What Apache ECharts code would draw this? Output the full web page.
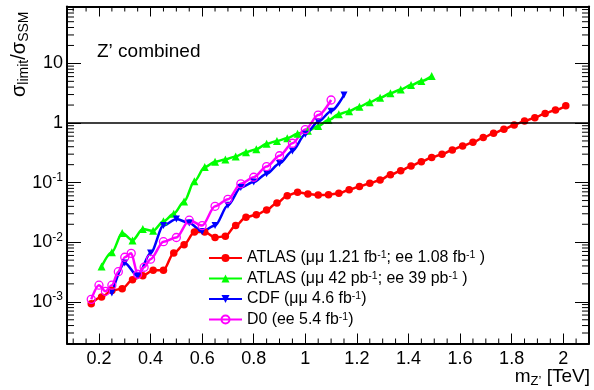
<!DOCTYPE html>
<html><head><meta charset="utf-8">
<script src="https://cdn.jsdelivr.net/npm/echarts@6.0.0/dist/echarts.min.js"></script>
<style>html,body{margin:0;padding:0;background:#fff}#c{width:594px;height:390px}</style>
</head><body><div id="c"></div>
<script>
const FONT = '"Liberation Sans", Arial, Helvetica, sans-serif';

// ---- data ----
const atlas2011X = [0.17,0.21,0.25,0.29,0.33,0.37,0.41,0.45,0.49,0.53,0.57,0.61,0.65,0.69,0.73,0.77,0.81,0.85,0.89,0.93,0.97,1.01,1.05,1.09,1.13,1.17,1.21,1.25,1.29,1.33,1.37,1.41,1.45,1.49,1.53,1.57,1.61,1.65,1.69,1.73,1.77,1.81,1.85,1.89,1.93,1.97,2.01];
const atlas2011Y = [9.3e-4,1.2e-3,1.55e-3,1.66e-3,2.34e-3,2.75e-3,3.39e-3,3.39e-3,6.6e-3,9.1e-3,0.0148,0.0148,0.012,0.0126,0.019,0.0263,0.0288,0.0347,0.0457,0.0603,0.0692,0.0646,0.0617,0.0624,0.0661,0.0759,0.0859,0.0977,0.111,0.135,0.158,0.19,0.224,0.263,0.299,0.353,0.412,0.474,0.569,0.671,0.783,0.927,1.08,1.23,1.45,1.65,1.95];

const atlas2010X = [0.21,0.25,0.29,0.33,0.37,0.41,0.45,0.49,0.53,0.57,0.61,0.65,0.69,0.73,0.77,0.81,0.85,0.89,0.93,0.97,1.01,1.05,1.09,1.13,1.17,1.21,1.25,1.29,1.33,1.37,1.41,1.45,1.49];
const atlas2010Y = [3.9e-3,6.8e-3,0.0143,0.0107,0.0166,0.0155,0.0224,0.030,0.048,0.105,0.182,0.224,0.245,0.275,0.324,0.363,0.447,0.50,0.555,0.66,0.74,0.89,1.12,1.40,1.58,1.88,2.22,2.65,3.14,3.66,4.32,5.05,6.12];

const cdfX = [0.25,0.30,0.35,0.40,0.45,0.50,0.55,0.60,0.65,0.70,0.75,0.80,0.85,0.90,0.95,1.00,1.05,1.10,1.15];
const cdfY = [1.4e-3,4.5e-3,2.7e-3,6.6e-3,0.019,0.0245,0.021,0.0151,0.019,0.0417,0.083,0.102,0.141,0.209,0.339,0.646,1.05,1.58,2.95];

const d0X = [0.17,0.2,0.225,0.25,0.275,0.3,0.325,0.35,0.375,0.4,0.45,0.5,0.55,0.6,0.65,0.7,0.75,0.8,0.85,0.9,0.95,1.0,1.05,1.1];
const d0Y = [1.1e-3,1.9e-3,1.5e-3,1.9e-3,3.2e-3,5.6e-3,6.5e-3,2.9e-3,3.8e-3,5.2e-3,0.0102,0.012,0.0234,0.019,0.040,0.0525,0.0955,0.123,0.186,0.282,0.457,0.776,1.36,2.43];

const seriesNames = ['ATLAS 2011','ATLAS 2010','CDF','D0'];
const legendTexts = [
  '{n|ATLAS (μμ 1.21 fb}{s|-1}{n|; ee 1.08 fb}{s|-1}{n| )}',
  '{n|ATLAS (μμ 42 pb}{s|-1}{n|; ee 39 pb}{s|-1}{n| )}',
  '{n|CDF (μμ 4.6 fb}{s|-1}{n|)}',
  '{n|D0 (ee 5.4 fb}{s|-1}{n|)}'
];
const xMin = 0.076, xMax = 2.1, yMin = 2e-4, yMax = 90;
const refLine = 1;

// minor tick positions (axis decoration)
const xMinorTicks = [];
for (let v = 0.1; v < 2.1; v += 0.05) { const r = Math.round(v*100)/100; if (Math.abs(r/0.2 - Math.round(r/0.2)) > 1e-6) xMinorTicks.push(r); }
const yMinorTicks = [];
for (let e = -4; e <= 1; e++) for (let m = 2; m <= 9; m++) { const v = m*Math.pow(10,e); if (v > yMin*1.01 && v < yMax*0.99) yMinorTicks.push(v); }

const tickData = xMinorTicks.map(v => [v, 1, 0]).concat(yMinorTicks.map(v => [1, v, 1]));

const pairs = (xs, ys) => xs.map((x, i) => [x, ys[i]]);

function lineSeries(name, xs, ys, color, symbol, size, extra) {
  return Object.assign({
    name, type: 'line', data: pairs(xs, ys),
    smooth: 0.3, smoothMonotone: 'x',
    symbol, symbolSize: size, showSymbol: true, showAllSymbol: true,
    lineStyle: { color, width: 2.5 },
    itemStyle: { color },
    emphasis: { disabled: true },
    xAxisIndex: 0, yAxisIndex: 0
  }, extra || {});
}

const chart = echarts.init(document.getElementById('c'));
const axisLineStyle = { color: '#000', width: 2 };

const option = {
  animation: false,
  backgroundColor: '#fff',
  grid: { left: 67, right: 5, top: 6.5, bottom: 46.5, containLabel: false },
  xAxis: [
    { type: 'value', min: xMin, max: xMax, minInterval: 0.2, maxInterval: 0.2, splitNumber: 10,
      position: 'bottom', splitLine: { show: false },
      axisLine: { lineStyle: axisLineStyle },
      axisTick: { inside: true, length: 10, lineStyle: { color: '#000', width: 1 } },
      axisLabel: { color: '#000', fontSize: 18, fontFamily: FONT, margin: 7, showMinLabel: false, showMaxLabel: false }
    },
    { type: 'value', min: xMin, max: xMax, minInterval: 0.2, maxInterval: 0.2, splitNumber: 10,
      position: 'top', splitLine: { show: false },
      axisLine: { lineStyle: axisLineStyle },
      axisTick: { inside: true, length: 10, lineStyle: { color: '#000', width: 1 } },
      axisLabel: { show: false }
    }
  ],
  yAxis: [
    { type: 'log', logBase: 10, min: yMin, max: yMax, position: 'left', splitLine: { show: false },
      axisLine: { lineStyle: axisLineStyle },
      axisTick: { inside: true, length: 14, lineStyle: { color: '#000', width: 1 } },
      axisLabel: { color: '#000', fontFamily: FONT, margin: 4, showMinLabel: false, showMaxLabel: false,
        formatter: v => { const e = Math.round(Math.log10(v)); return e >= 0 ? '{b|' + Math.pow(10, e) + '}' : '{b|10}{s|' + e + '}'; },
        rich: { b: { fontSize: 18, fontFamily: FONT, color: '#000', lineHeight: 22 },
                s: { fontSize: 12, fontFamily: FONT, color: '#000', lineHeight: 12, verticalAlign: 'top' } } }
    },
    { type: 'log', logBase: 10, min: yMin, max: yMax, position: 'right', splitLine: { show: false },
      axisLine: { lineStyle: axisLineStyle },
      axisTick: { inside: true, length: 14, lineStyle: { color: '#000', width: 1 } },
      axisLabel: { show: false }
    }
  ],
  legend: {
    orient: 'vertical', left: 208, top: 250, padding: 0, itemWidth: 33, itemHeight: 10, itemGap: 4.5,
    data: seriesNames, selectedMode: false,
    formatter: name => legendTexts[seriesNames.indexOf(name)],
    textStyle: { color: '#000', fontFamily: FONT,
      rich: { n: { fontSize: 15.9, fontFamily: FONT, color: '#000', lineHeight: 16 },
              s: { fontSize: 10.5, fontFamily: FONT, color: '#000', lineHeight: 10, verticalAlign: 'top' } } }
  },
  series: [
    lineSeries(seriesNames[0], atlas2011X, atlas2011Y, '#ff0000', 'circle', 7.5, {
      markLine: { silent: true, symbol: ['none', 'none'], label: { show: false },
        lineStyle: { color: '#000', width: 1.5, type: 'solid' }, data: [{ yAxis: refLine }] }
    }),
    lineSeries(seriesNames[1], atlas2010X, atlas2010Y, '#00ff00', 'triangle', 8),
    lineSeries(seriesNames[2], cdfX, cdfY, '#0000ff', 'triangle', 7, { symbolRotate: 180 }),
    lineSeries(seriesNames[3], d0X, d0Y, '#ff00ff', 'circle', 8, {
      itemStyle: { color: 'rgba(255,255,255,0)', borderColor: '#ff00ff', borderWidth: 1.3 } }),
    { type: 'custom', name: 'minorTicks', xAxisIndex: 0, yAxisIndex: 0, silent: true, clip: false,
      data: tickData,
      renderItem: (params, api) => {
        const cs = params.coordSys;
        const st = { stroke: '#000', lineWidth: 1 };
        if (api.value(2) === 0) {
          const px = api.coord([api.value(0), 1])[0];
          const yb = cs.y + cs.height, yt = cs.y;
          return { type: 'group', children: [
            { type: 'line', shape: { x1: px, y1: yb, x2: px, y2: yb - 5 }, style: st },
            { type: 'line', shape: { x1: px, y1: yt, x2: px, y2: yt + 5 }, style: st } ] };
        } else {
          const py = api.coord([1, api.value(1)])[1];
          const xl = cs.x, xr = cs.x + cs.width;
          return { type: 'group', children: [
            { type: 'line', shape: { x1: xl, y1: py, x2: xl + 7, y2: py }, style: st },
            { type: 'line', shape: { x1: xr, y1: py, x2: xr - 7, y2: py }, style: st } ] };
        }
      }
    }
  ],
  graphic: [
    { type: 'text', x: 97, y: 52, style: { text: 'Z’ combined', fontSize: 19, fontFamily: FONT, fill: '#000', textVerticalAlign: 'middle' } },
    { type: 'text', x: 19, y: 97, rotation: Math.PI / 2,
      style: { text: '{a|σ}{b|limit}{a|/σ}{b|SSM}', textAlign: 'left', textVerticalAlign: 'middle',
        rich: { a: { fontSize: 20, fontFamily: FONT, fill: '#000', lineHeight: 24 },
                b: { fontSize: 14, fontFamily: FONT, fill: '#000', lineHeight: 14, verticalAlign: 'bottom' } } } },
    { type: 'text', x: 590, y: 377,
      style: { text: '{a|m}{b|Z’}{a| [TeV]}', textAlign: 'right', textVerticalAlign: 'middle',
        rich: { a: { fontSize: 19, fontFamily: FONT, fill: '#000', lineHeight: 22 },
                b: { fontSize: 13, fontFamily: FONT, fill: '#000', lineHeight: 13, verticalAlign: 'bottom' } } } }
  ]
};
chart.setOption(option);
</script>
</body></html>
